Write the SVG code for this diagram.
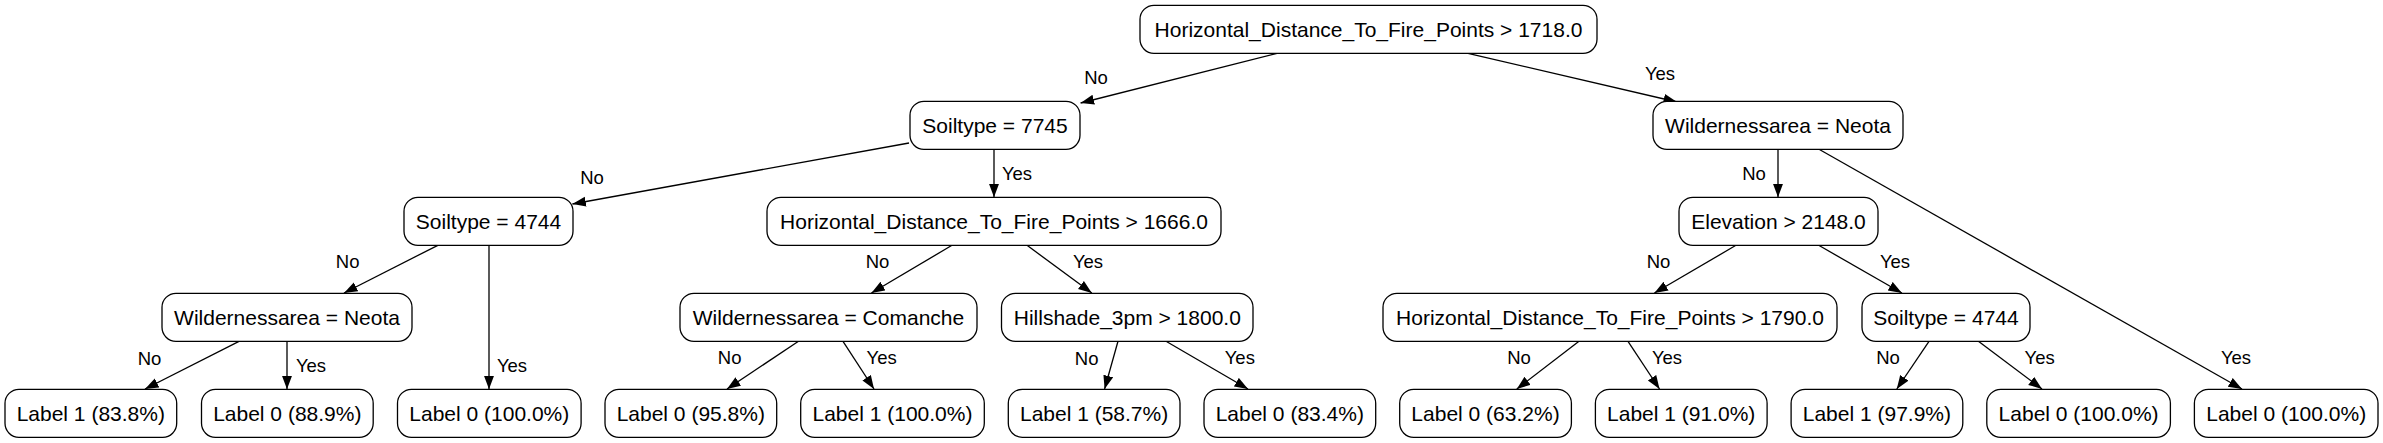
<svg xmlns="http://www.w3.org/2000/svg" width="2383" height="443" viewBox="0 0 2383 443">
<style>
.n rect{fill:#fff;stroke:#000;stroke-width:1.3}
.n text{font-family:"Liberation Sans",Arial,Helvetica,sans-serif;font-size:21px;text-anchor:middle;fill:#000}
.e line{stroke:#000;stroke-width:1.3;fill:none;marker-end:url(#ah)}
.e text{font-family:"Liberation Sans",Arial,Helvetica,sans-serif;font-size:18.5px;text-anchor:middle;fill:#000}
</style>
<defs>
<marker id="ah" markerUnits="userSpaceOnUse" markerWidth="14" markerHeight="11" refX="13.5" refY="5" orient="auto">
<path d="M0,0 L13.5,5 L0,10 z" fill="#000"/>
</marker>
</defs>
<rect width="2383" height="443" fill="#fff"/>
<g id="edges" class="e">
<line x1="1277" y1="53.3" x2="1080.6" y2="103"/><text x="1096" y="84">No</text>
<line x1="1468" y1="53.3" x2="1677" y2="102"/><text x="1660" y="80">Yes</text>
<line x1="909" y1="143" x2="572.4" y2="204"/><text x="592" y="184">No</text>
<line x1="994" y1="149.3" x2="994" y2="197.3"/><text x="1017" y="180">Yes</text>
<line x1="1778" y1="149.3" x2="1778" y2="197.3"/><text x="1754" y="180">No</text>
<line x1="1819" y1="149.3" x2="2242" y2="389"/><text x="2236" y="364">Yes</text>
<line x1="437.8" y1="245.3" x2="344" y2="293"/><text x="347.7" y="268.3">No</text>
<line x1="489" y1="245.3" x2="489" y2="389.3"/><text x="512" y="371.7">Yes</text>
<line x1="239" y1="341.3" x2="145" y2="389"/><text x="149.5" y="364.5">No</text>
<line x1="287" y1="341.3" x2="287" y2="389.3"/><text x="311" y="372">Yes</text>
<line x1="952" y1="245.3" x2="871.4" y2="293"/><text x="877.5" y="268.3">No</text>
<line x1="1027" y1="245.3" x2="1091.8" y2="293"/><text x="1088" y="268.3">Yes</text>
<line x1="798.5" y1="341.3" x2="727" y2="389"/><text x="729.6" y="363.5">No</text>
<line x1="843" y1="341.3" x2="874" y2="389"/><text x="881.6" y="363.5">Yes</text>
<line x1="1118" y1="341.3" x2="1104.6" y2="389"/><text x="1086.7" y="364.5">No</text>
<line x1="1166" y1="341.3" x2="1248" y2="389"/><text x="1239.8" y="363.5">Yes</text>
<line x1="1736" y1="245.3" x2="1654.4" y2="293"/><text x="1658.5" y="268.3">No</text>
<line x1="1818.7" y1="245.3" x2="1901.9" y2="293"/><text x="1895" y="268.3">Yes</text>
<line x1="1579" y1="341.3" x2="1516.8" y2="389"/><text x="1519" y="363.5">No</text>
<line x1="1628" y1="341.3" x2="1659.5" y2="389"/><text x="1667" y="363.5">Yes</text>
<line x1="1929" y1="341.3" x2="1896.8" y2="389"/><text x="1888" y="363.5">No</text>
<line x1="1978.4" y1="341.3" x2="2042" y2="389"/><text x="2039.6" y="363.5">Yes</text>
</g>
<g id="root" class="n"><rect x="1140" y="5.3" width="457" height="48" rx="14"/><text x="1368.5" y="36.7">Horizontal_Distance_To_Fire_Points &gt; 1718.0</text></g>
<g id="s7745" class="n"><rect x="910" y="101.3" width="170" height="48" rx="14"/><text x="995" y="132.7">Soiltype = 7745</text></g>
<g id="wnR" class="n"><rect x="1653" y="101.3" width="250" height="48" rx="14"/><text x="1778" y="132.7">Wildernessarea = Neota</text></g>
<g id="s4744L" class="n"><rect x="404" y="197.3" width="169" height="48" rx="14"/><text x="488.5" y="228.7">Soiltype = 4744</text></g>
<g id="h1666" class="n"><rect x="767" y="197.3" width="454" height="48" rx="14"/><text x="994" y="228.7">Horizontal_Distance_To_Fire_Points &gt; 1666.0</text></g>
<g id="elev" class="n"><rect x="1679" y="197.3" width="199" height="48" rx="14"/><text x="1778.5" y="228.7">Elevation &gt; 2148.0</text></g>
<g id="wnL" class="n"><rect x="162" y="293.3" width="250" height="48" rx="14"/><text x="287" y="324.7">Wildernessarea = Neota</text></g>
<g id="wcom" class="n"><rect x="680" y="293.3" width="297" height="48" rx="14"/><text x="828.5" y="324.7">Wildernessarea = Comanche</text></g>
<g id="hill" class="n"><rect x="1001.5" y="293.3" width="251.5" height="48" rx="14"/><text x="1127.3" y="324.7">Hillshade_3pm &gt; 1800.0</text></g>
<g id="h1790" class="n"><rect x="1383" y="293.3" width="454" height="48" rx="14"/><text x="1610" y="324.7">Horizontal_Distance_To_Fire_Points &gt; 1790.0</text></g>
<g id="s4744R" class="n"><rect x="1862" y="293.3" width="168" height="48" rx="14"/><text x="1946" y="324.7">Soiltype = 4744</text></g>
<g id="l1" class="n"><rect x="5" y="389.3" width="171.7" height="48" rx="14"/><text x="90.8" y="420.7">Label 1 (83.8%)</text></g>
<g id="l2" class="n"><rect x="201.5" y="389.3" width="171.7" height="48" rx="14"/><text x="287.3" y="420.7">Label 0 (88.9%)</text></g>
<g id="l3" class="n"><rect x="397.5" y="389.3" width="183.6" height="48" rx="14"/><text x="489.3" y="420.7">Label 0 (100.0%)</text></g>
<g id="l4" class="n"><rect x="605" y="389.3" width="171.7" height="48" rx="14"/><text x="690.8" y="420.7">Label 0 (95.8%)</text></g>
<g id="l5" class="n"><rect x="800.7" y="389.3" width="183.6" height="48" rx="14"/><text x="892.5" y="420.7">Label 1 (100.0%)</text></g>
<g id="l6" class="n"><rect x="1008.3" y="389.3" width="171.7" height="48" rx="14"/><text x="1094.1" y="420.7">Label 1 (58.7%)</text></g>
<g id="l7" class="n"><rect x="1204" y="389.3" width="171.7" height="48" rx="14"/><text x="1289.8" y="420.7">Label 0 (83.4%)</text></g>
<g id="l8" class="n"><rect x="1399.7" y="389.3" width="171.7" height="48" rx="14"/><text x="1485.5" y="420.7">Label 0 (63.2%)</text></g>
<g id="l9" class="n"><rect x="1595.4" y="389.3" width="171.7" height="48" rx="14"/><text x="1681.2" y="420.7">Label 1 (91.0%)</text></g>
<g id="l10" class="n"><rect x="1791.1" y="389.3" width="171.7" height="48" rx="14"/><text x="1876.9" y="420.7">Label 1 (97.9%)</text></g>
<g id="l11" class="n"><rect x="1986.8" y="389.3" width="183.6" height="48" rx="14"/><text x="2078.6" y="420.7">Label 0 (100.0%)</text></g>
<g id="l12" class="n"><rect x="2194.4" y="389.3" width="183.6" height="48" rx="14"/><text x="2286.2" y="420.7">Label 0 (100.0%)</text></g>
</svg>
